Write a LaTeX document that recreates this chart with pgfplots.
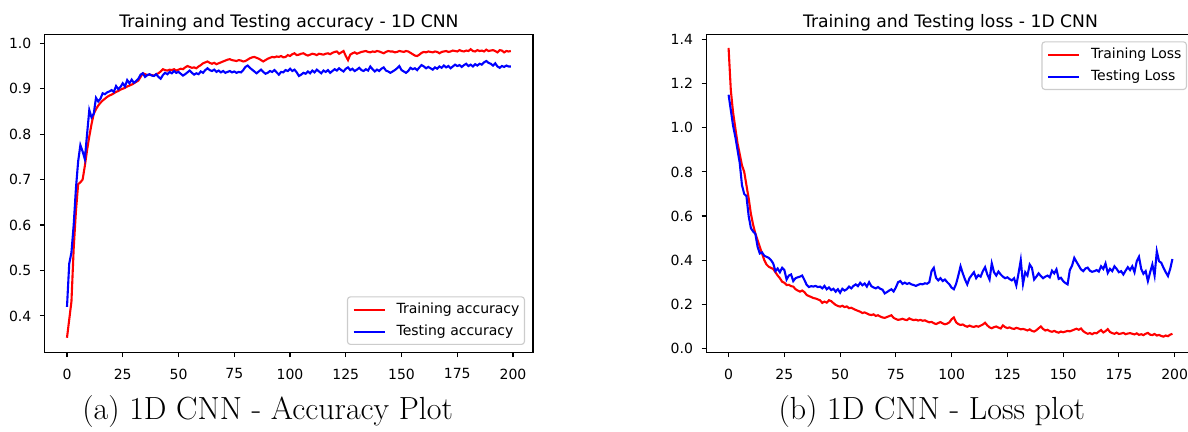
\documentclass[border=0pt]{standalone}
\usepackage{pgfplots}
\pgfplotsset{compat=1.18}
\usepackage{pgfplotstable}
\usepackage{fontspec}
\newfontfamily\dejavu{DejaVu Sans}

% epoch, train acc, test acc, train loss, test loss
\pgfplotstableread{
e tra tea trl tel
0 0.352 0.420 1.362 1.150
1 0.392 0.515 1.170 1.080
2 0.432 0.540 1.070 1.010
3 0.548 0.600 1.000 0.960
4 0.630 0.680 0.930 0.900
5 0.690 0.740 0.880 0.840
6 0.694 0.776 0.830 0.740
7 0.700 0.762 0.800 0.700
8 0.730 0.745 0.740 0.690
9 0.765 0.800 0.680 0.600
10 0.795 0.853 0.610 0.545
11 0.822 0.837 0.560 0.530
12 0.845 0.845 0.520 0.520
13 0.855 0.880 0.490 0.460
14 0.863 0.872 0.460 0.430
15 0.869 0.878 0.430 0.435
16 0.874 0.890 0.400 0.420
17 0.878 0.888 0.380 0.415
18 0.882 0.892 0.370 0.410
19 0.885 0.894 0.365 0.400
20 0.887 0.897 0.360 0.385
21 0.890 0.893 0.345 0.350
22 0.893 0.906 0.330 0.362
23 0.895 0.899 0.318 0.345
24 0.898 0.904 0.302 0.365
25 0.900 0.912 0.297 0.355
26 0.902 0.905 0.287 0.312
27 0.905 0.919 0.288 0.330
28 0.907 0.912 0.282 0.335
29 0.909 0.920 0.280 0.305
30 0.912 0.913 0.268 0.318
31 0.915 0.917 0.262 0.322
32 0.918 0.922 0.257 0.325
33 0.926 0.931 0.262 0.330
34 0.934 0.934 0.255 0.310
35 0.932 0.926 0.242 0.288
36 0.930 0.930 0.237 0.278
37 0.931 0.932 0.233 0.282
38 0.930 0.929 0.228 0.280
39 0.929 0.928 0.226 0.283
40 0.932 0.932 0.222 0.278
41 0.934 0.926 0.218 0.280
42 0.938 0.922 0.206 0.272
43 0.943 0.930 0.212 0.283
44 0.941 0.935 0.207 0.268
45 0.940 0.932 0.218 0.276
46 0.942 0.937 0.214 0.264
47 0.941 0.934 0.205 0.270
48 0.943 0.939 0.197 0.257
49 0.940 0.935 0.192 0.268
50 0.942 0.937 0.189 0.252
51 0.944 0.933 0.193 0.270
52 0.943 0.929 0.187 0.262
53 0.947 0.932 0.190 0.268
54 0.950 0.936 0.182 0.280
55 0.948 0.940 0.184 0.272
56 0.946 0.935 0.179 0.283
57 0.947 0.931 0.174 0.290
58 0.945 0.934 0.170 0.282
59 0.949 0.932 0.166 0.297
60 0.952 0.938 0.160 0.286
61 0.956 0.935 0.163 0.294
62 0.958 0.941 0.158 0.280
63 0.960 0.945 0.153 0.300
64 0.957 0.941 0.151 0.282
65 0.955 0.939 0.154 0.276
66 0.957 0.942 0.147 0.272
67 0.954 0.937 0.150 0.278
68 0.956 0.940 0.144 0.270
69 0.958 0.936 0.140 0.266
70 0.960 0.939 0.138 0.249
71 0.962 0.935 0.142 0.255
72 0.964 0.937 0.146 0.262
73 0.965 0.939 0.150 0.268
74 0.963 0.936 0.138 0.258
75 0.962 0.938 0.133 0.276
76 0.961 0.935 0.129 0.300
77 0.963 0.937 0.131 0.305
78 0.962 0.936 0.134 0.292
79 0.960 0.941 0.130 0.298
80 0.961 0.948 0.128 0.292
81 0.964 0.951 0.136 0.296
82 0.967 0.946 0.131 0.290
83 0.969 0.942 0.128 0.287
84 0.970 0.938 0.130 0.283
85 0.968 0.934 0.126 0.288
86 0.966 0.938 0.129 0.292
87 0.963 0.942 0.125 0.290
88 0.960 0.937 0.127 0.295
89 0.963 0.933 0.122 0.293
90 0.966 0.935 0.118 0.300
91 0.968 0.939 0.120 0.350
92 0.970 0.937 0.114 0.365
93 0.969 0.941 0.110 0.320
94 0.971 0.936 0.115 0.308
95 0.970 0.931 0.119 0.318
96 0.972 0.937 0.113 0.305
97 0.969 0.936 0.109 0.312
98 0.970 0.941 0.112 0.300
99 0.974 0.939 0.118 0.290
100 0.972 0.944 0.132 0.275
101 0.976 0.939 0.140 0.268
102 0.978 0.942 0.118 0.292
103 0.974 0.936 0.110 0.330
104 0.975 0.928 0.106 0.372
105 0.977 0.931 0.108 0.340
106 0.978 0.935 0.102 0.312
107 0.975 0.933 0.098 0.290
108 0.973 0.938 0.103 0.318
109 0.975 0.934 0.099 0.332
110 0.977 0.940 0.097 0.345
111 0.976 0.936 0.101 0.318
112 0.974 0.942 0.098 0.332
113 0.977 0.938 0.103 0.325
114 0.976 0.934 0.108 0.350
115 0.975 0.940 0.116 0.368
116 0.977 0.937 0.104 0.335
117 0.978 0.941 0.095 0.312
118 0.976 0.935 0.091 0.385
119 0.979 0.939 0.096 0.345
120 0.981 0.943 0.099 0.330
121 0.982 0.940 0.094 0.348
122 0.977 0.945 0.090 0.335
123 0.980 0.941 0.104 0.325
124 0.983 0.938 0.096 0.318
125 0.972 0.944 0.092 0.322
126 0.963 0.947 0.095 0.314
127 0.975 0.941 0.090 0.308
128 0.978 0.944 0.088 0.318
129 0.980 0.939 0.093 0.285
130 0.977 0.942 0.090 0.340
131 0.979 0.946 0.086 0.400
132 0.981 0.941 0.088 0.292
133 0.982 0.939 0.085 0.345
134 0.983 0.943 0.081 0.330
135 0.981 0.940 0.086 0.380
136 0.980 0.949 0.079 0.365
137 0.982 0.943 0.076 0.312
138 0.981 0.938 0.082 0.325
139 0.983 0.942 0.091 0.340
140 0.982 0.939 0.099 0.328
141 0.980 0.944 0.088 0.318
142 0.978 0.947 0.081 0.325
143 0.981 0.940 0.084 0.330
144 0.983 0.938 0.078 0.322
145 0.982 0.935 0.075 0.352
146 0.982 0.938 0.079 0.340
147 0.980 0.941 0.074 0.358
148 0.981 0.945 0.071 0.315
149 0.983 0.950 0.076 0.320
150 0.982 0.941 0.073 0.305
151 0.981 0.938 0.076 0.296
152 0.983 0.935 0.079 0.290
153 0.982 0.939 0.077 0.355
154 0.979 0.946 0.081 0.375
155 0.976 0.943 0.085 0.410
156 0.973 0.945 0.089 0.392
157 0.972 0.941 0.084 0.375
158 0.975 0.947 0.090 0.358
159 0.979 0.952 0.078 0.350
160 0.981 0.949 0.071 0.362
161 0.980 0.945 0.066 0.366
162 0.982 0.948 0.069 0.352
163 0.981 0.945 0.064 0.347
164 0.980 0.942 0.070 0.350
165 0.982 0.947 0.068 0.355
166 0.981 0.944 0.076 0.348
167 0.978 0.949 0.083 0.372
168 0.981 0.946 0.072 0.360
169 0.982 0.951 0.078 0.385
170 0.983 0.947 0.087 0.342
171 0.981 0.950 0.074 0.360
172 0.982 0.945 0.069 0.350
173 0.984 0.949 0.066 0.372
174 0.983 0.953 0.071 0.360
175 0.982 0.950 0.065 0.345
176 0.985 0.952 0.067 0.350
177 0.983 0.948 0.070 0.335
178 0.982 0.952 0.064 0.352
179 0.984 0.955 0.067 0.368
180 0.983 0.950 0.069 0.355
181 0.987 0.953 0.066 0.372
182 0.983 0.949 0.063 0.345
183 0.982 0.954 0.068 0.395
184 0.985 0.951 0.061 0.415
185 0.983 0.955 0.064 0.360
186 0.984 0.953 0.060 0.338
187 0.982 0.958 0.066 0.350
188 0.986 0.961 0.070 0.305
189 0.983 0.957 0.062 0.345
190 0.984 0.955 0.060 0.380
191 0.985 0.951 0.065 0.330
192 0.983 0.956 0.058 0.440
193 0.980 0.949 0.061 0.395
194 0.985 0.946 0.056 0.388
195 0.984 0.950 0.053 0.365
196 0.980 0.948 0.058 0.345
197 0.983 0.951 0.055 0.328
198 0.982 0.949 0.062 0.360
199 0.983 0.949 0.066 0.405
}\history

\pgfplotsset{
  mpl/.style={
    scale only axis,
    width=244.1pt, height=159pt,
    xmin=-9.95, xmax=208.95,
    xtick={0,25,...,200},
    axis line style={line width=0.56pt},
    every tick/.style={line width=0.56pt, black},
    major tick length=2.45pt,
    tick align=outside,
    xtick pos=bottom, ytick pos=left,
    /pgf/number format/assume math mode=true,
    ticklabel style={font=\dejavu\fontsize{7}{8.4}\selectfont},
    xticklabel style={inner ysep=5.6pt},
    yticklabel style={inner xsep=4.1pt},
    legend style={font=\dejavu\fontsize{7}{8.4}\selectfont, draw=black!20,
      line width=0.56pt, rounded corners=1.5pt, fill=white, fill opacity=0.8,
      text opacity=1, inner xsep=2.5pt, inner ysep=2.9pt, row sep=4pt,
      nodes={inner sep=0pt, text height=5.3pt, text depth=1.7pt},
      /tikz/every odd column/.style={column sep=5.5pt}},
    legend cell align=left,
    legend image code/.code={\draw[#1] (0pt,0pt) -- (15.5pt,0pt);},
    every axis plot/.append style={line width=1.05pt},
  }
}

\begin{document}
\begin{tikzpicture}
\useasboundingbox (0,0) rectangle (594pt,-216pt);

\begin{axis}[mpl,
  at={(22.4pt,-17.15pt)}, anchor=north west,
  ymin=0.320, ymax=1.0198,
  ytick={0.4,0.5,0.6,0.7,0.8,0.9,1.0},
  yticklabels={0.4,0.5,0.6,0.7,0.8,0.9,1.0},
  legend style={at={(1,0)}, anchor=south east, xshift=-4pt, yshift=3.65pt},
]
\addplot[red, no marks] table[x=e, y=tra] {\history};
\addlegendentry{Training accuracy}
\addplot[blue, no marks] table[x=e, y=tea] {\history};
\addlegendentry{Testing accuracy}
\end{axis}

\begin{axis}[mpl,
  at={(353.2pt,-17.15pt)}, anchor=north west,
  ymin=-0.018, ymax=1.424,
  ytick={0,0.2,0.4,0.6,0.8,1.0,1.2,1.4},
  yticklabels={0.0,0.2,0.4,0.6,0.8,1.0,1.2,1.4},
  legend style={at={(1,1)}, anchor=north east, xshift=-3.8pt, yshift=-3.5pt},
]
\addplot[red, no marks] table[x=e, y=trl] {\history};
\addlegendentry{Training Loss}
\addplot[blue, no marks] table[x=e, y=tel] {\history};
\addlegendentry{Testing Loss}
\end{axis}

% titles
\node[anchor=base, font=\dejavu\fontsize{8.6}{10}\selectfont] at (144.45pt,-13.75pt) {Training and Testing accuracy - 1D CNN};
\node[anchor=base, font=\dejavu\fontsize{8.6}{10}\selectfont] at (475.25pt,-13.75pt) {Training and Testing loss - 1D CNN};

% sub-captions
\node[anchor=base, font=\fontsize{16}{19}\selectfont] at (133.8pt,-210pt) {(a) 1D CNN - Accuracy Plot};
\node[anchor=base, font=\fontsize{16}{19}\selectfont] at (465.9pt,-210pt) {(b) 1D CNN - Loss plot};
\end{tikzpicture}
\end{document}
